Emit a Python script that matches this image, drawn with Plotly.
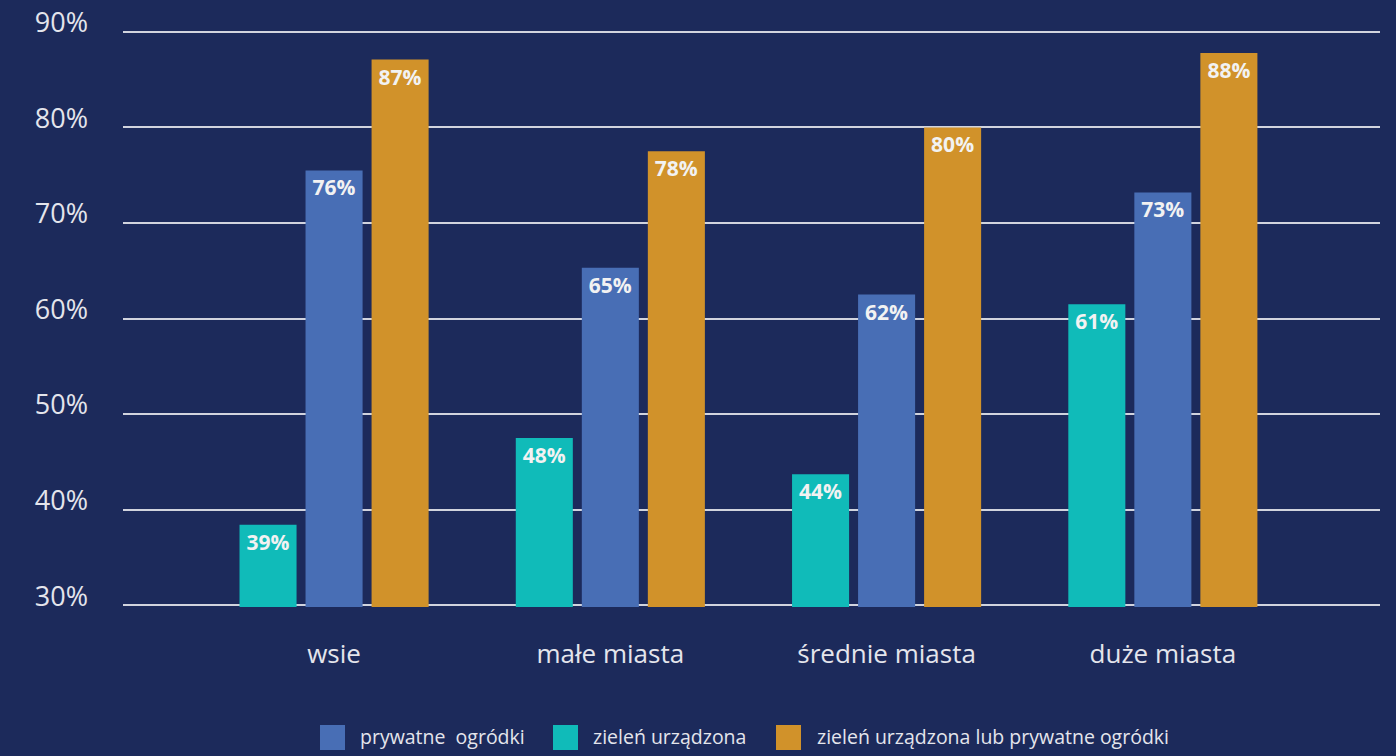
import plotly.graph_objects as go

categories = ["wsie", "małe miasta", "średnie miasta", "duże miasta"]
series_names = ["zieleń urządzona", "prywatne  ogródki", "zieleń urządzona lub prywatne ogródki"]
teal_vals = [38.4, 47.5, 43.7, 61.5]
blue_vals = [75.5, 65.3, 62.5, 73.2]
orange_vals = [87.1, 77.5, 80.0, 87.8]
teal_labels = ["39%", "48%", "44%", "61%"]
blue_labels = ["76%", "65%", "62%", "73%"]
orange_labels = ["87%", "78%", "80%", "88%"]
y_ticks = [30, 40, 50, 60, 70, 80, 90]

BG = "#1c2a5b"
TEAL = "#10bbb9"
BLUE = "#486eb5"
ORANGE = "#d1922a"
TXT = "#e4e5ec"
FONT = "Open Sans"

fig = go.Figure()
for name, vals, labels, col in [
    (series_names[0], teal_vals, teal_labels, TEAL),
    (series_names[1], blue_vals, blue_labels, BLUE),
    (series_names[2], orange_vals, orange_labels, ORANGE),
]:
    fig.add_trace(go.Bar(
        x=categories, y=vals, name=name, text=labels,
        textposition="inside", insidetextanchor="end",
        textfont=dict(family=FONT, size=21, color="#f2f2f2", weight="bold"),
        marker=dict(color=col, line=dict(width=0)),
        showlegend=False, constraintext="none",
    ))

# manual legend (large square swatches)
W, H = 1396, 756
L, R, T, B = 123, 16, 30, 149
pw, ph = W - L - R, H - T - B
def px(x):
    return (x - L) / pw
def py(y):
    return (H - B - y) / ph

legend_items = [
    (series_names[1], BLUE, 320, 358),
    (series_names[0], TEAL, 553, 591),
    (series_names[2], ORANGE, 776, 815),
]
for name, col, sx, tx in legend_items:
    fig.add_shape(type="rect", xref="paper", yref="paper",
                  x0=px(sx), x1=px(sx + 25), y0=py(750), y1=py(725),
                  fillcolor=col, line=dict(width=0))
    fig.add_annotation(xref="paper", yref="paper", x=px(tx), y=py(737),
                       text=name, showarrow=False, xanchor="left", yanchor="middle",
                       font=dict(family=FONT, size=19.5, color=TXT))

fig.update_layout(
    width=W, height=H,
    paper_bgcolor=BG, plot_bgcolor=BG,
    margin=dict(l=L, r=R, t=T, b=B, autoexpand=False),
    barmode="group", bargap=0.283, bargroupgap=0.136,
    font=dict(family=FONT, color=TXT),
    showlegend=False,
)
fig.update_xaxes(
    type="category", range=[-0.764, 3.786], automargin=False,
    showgrid=False, zeroline=False, showline=False,
    ticks="", ticklabelstandoff=29,
    tickfont=dict(family=FONT, size=26, color=TXT),
)
fig.update_yaxes(
    range=[29.8, 90.2], tickvals=y_ticks, ticktext=[f"{v}%" for v in y_ticks],
    automargin=False,
    showgrid=True, gridcolor="rgba(255,255,255,0.8)", gridwidth=1.5,
    zeroline=False, showline=False, ticks="",
    ticklabelposition="outside", ticklabelshift=-9, ticklabelstandoff=34,
    tickfont=dict(family=FONT, size=27, color=TXT),
)

fig.write_html("out.html")
